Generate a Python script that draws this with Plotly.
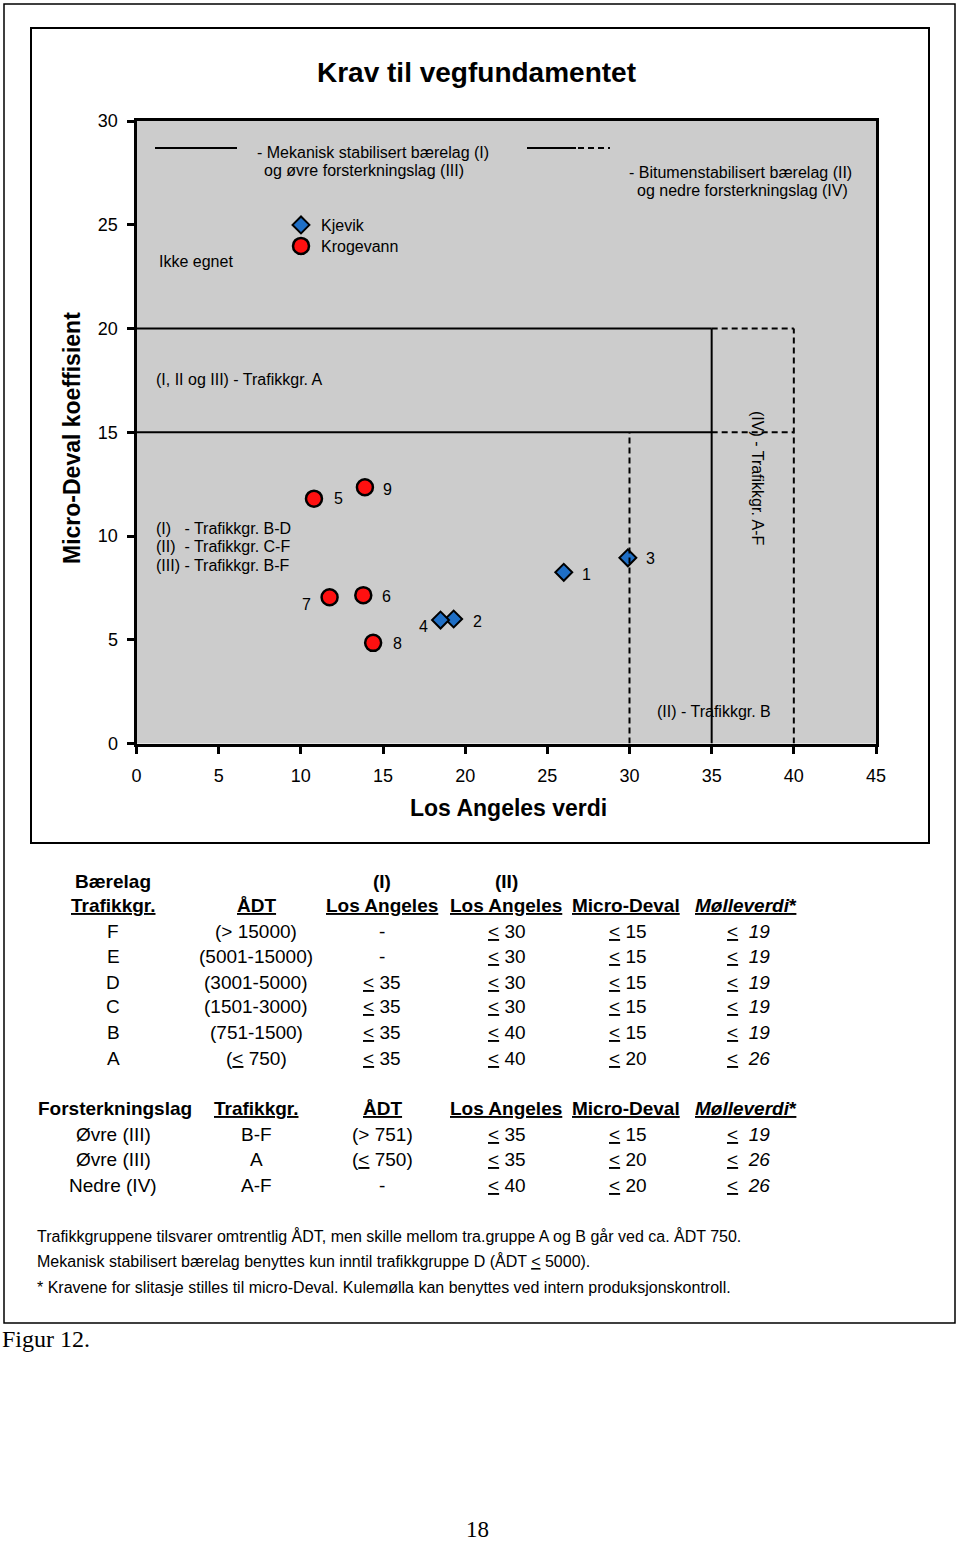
import plotly.graph_objects as go

W, H = 960, 1541

# ---------------- data ----------------
kjevik_la = [26.0, 19.3, 29.9, 18.5]
kjevik_md = [8.25, 6.0, 8.95, 5.95]
kjevik_labels = ["1", "2", "3", "4"]

krog_la = [10.8, 13.8, 11.75, 14.4, 13.9]
krog_md = [11.8, 7.15, 7.05, 4.85, 12.35]
krog_labels = ["5", "6", "7", "8", "9"]

x_ticks = [0, 5, 10, 15, 20, 25, 30, 35, 40, 45]
y_ticks = [0, 5, 10, 15, 20, 25, 30]

# requirement limits (LA, Micro-Deval)
solid_limits = [((0, 15), (35, 15)), ((0, 20), (35, 20)), ((35, 0), (35, 20))]
dashed_limits = [((35, 15), (40, 15)), ((35, 20), (40, 20)), ((40, 0), (40, 20)), ((30, 0), (30, 15))]

# table 1
t1_groups = ["F", "E", "D", "C", "B", "A"]
t1_adt = ["(> 15000)", "(5001-15000)", "(3001-5000)", "(1501-3000)", "(751-1500)", "(<u>&lt;</u> 750)"]
t1_la1 = ["-", "-", "35", "35", "35", "35"]
t1_la2 = ["30", "30", "30", "30", "40", "40"]
t1_md = ["15", "15", "15", "15", "15", "20"]
t1_ml = ["19", "19", "19", "19", "19", "26"]

# table 2
t2_layer = ["Øvre (III)", "Øvre (III)", "Nedre (IV)"]
t2_groups = ["B-F", "A", "A-F"]
t2_adt = ["(> 751)", "(<u>&lt;</u> 750)", "-"]
t2_la = ["35", "35", "40"]
t2_md = ["15", "20", "20"]
t2_ml = ["19", "26", "26"]

notes = [
    "Trafikkgruppene tilsvarer omtrentlig ÅDT, men skille mellom tra.gruppe A og B går ved ca. ÅDT 750.",
    "Mekanisk stabilisert bærelag benyttes kun inntil trafikkgruppe D (ÅDT <u>&lt;</u> 5000).",
    "* Kravene for slitasje stilles til micro-Deval. Kulemølla kan benyttes ved intern produksjonskontroll.",
]

# ---------------- style / layout helpers ----------------
FONT = "Liberation Sans, Arial, sans-serif"
label_offsets = {"1": (23, -2), "2": (24, -2), "3": (23, -1), "4": (-17, -6),
                 "5": (25, 0), "6": (23, -1), "7": (-23, -7), "8": (24, -1), "9": (23, -2)}


def px(x):
    return x / W


def py(y):
    return 1 - y / H


X0, X1, Y0, Y1 = 136.5, 876, 121, 743.5

fig = go.Figure()

fig.add_trace(go.Scatter(
    x=kjevik_la, y=kjevik_md, mode="markers", name="Kjevik", legend="legend",
    marker=dict(symbol="diamond", size=13, color="#1f6fc6", line=dict(color="black", width=2)),
))
fig.add_trace(go.Scatter(
    x=krog_la, y=krog_md, mode="markers", name="Krogevann", legend="legend2",
    marker=dict(symbol="circle", size=16, color="#ff1010", line=dict(color="black", width=2.5)),
))

ann = []


def text(x, y, s, size=16, bold=False, italic=False, anchor="center", angle=0, family=FONT, color="black"):
    if bold:
        s = "<b>" + s + "</b>"
    if italic:
        s = "<i>" + s + "</i>"
    ann.append(dict(x=px(x), y=py(y), xref="paper", yref="paper", text=s, showarrow=False,
                    xanchor=anchor, yanchor="middle", textangle=angle,
                    font=dict(family=family, size=size, color=color)))


# point labels
for xs, ys, labs in [(kjevik_la, kjevik_md, kjevik_labels), (krog_la, krog_md, krog_labels)]:
    for xv, yv, lab in zip(xs, ys, labs):
        dx, dy = label_offsets[lab]
        ann.append(dict(x=xv, y=yv, xref="x", yref="y", text=lab, showarrow=False,
                        xshift=dx, yshift=dy, font=dict(family=FONT, size=16, color="black")))

# titles
text(476, 72, "Krav til vegfundamentet", size=28, bold=True)
text(508, 808, "Los Angeles verdi", size=23, bold=True)
text(72, 438, "Micro-Deval koeffisient", size=23, bold=True, angle=-90)

# in-chart texts
text(255, 152, "- Mekanisk stabilisert bærelag (I)", anchor="left")
text(262, 170, "og øvre forsterkningslag (III)", anchor="left")
text(627, 172, "- Bitumenstabilisert bærelag (II)", anchor="left")
text(635, 190, "og nedre forsterkningslag (IV)", anchor="left")
text(157, 261, "Ikke egnet", anchor="left")
text(154, 379, "(I, II og III) - Trafikkgr. A", anchor="left")
text(154, 528, "(I)   - Trafikkgr. B-D", anchor="left")
text(154, 546, "(II)  - Trafikkgr. C-F", anchor="left")
text(154, 566, "(III) - Trafikkgr. B-F", anchor="left")
text(758, 478, "(IV) - Trafikkgr. A-F", angle=90)
text(714, 712, "(II) - Trafikkgr. B")

# table 1
TS = 19
c1 = [113, 256, 382, 506, 626, 746]
text(113, 881, "Bærelag", size=TS, bold=True)
text(382, 881, "(I)", size=TS, bold=True)
text(506, 881, "(II)", size=TS, bold=True)
hdr = ["Trafikkgr.", "ÅDT", "Los Angeles", "Los Angeles", "Micro-Deval"]
for cx, h in zip(c1, hdr):
    text(cx, 906, "<u>" + h + "</u>", size=TS, bold=True)
text(c1[5], 906, "<u><i>Mølleverdi</i>*</u>", size=TS, bold=True)


def le(v):
    if v == "-":
        return v
    return "<u>&lt;</u> " + v


rows1 = [931, 956, 982, 1007, 1032, 1058]
for i, ry in enumerate(rows1):
    text(c1[0], ry, t1_groups[i], size=TS)
    text(c1[1], ry, t1_adt[i], size=TS)
    text(c1[2], ry, le(t1_la1[i]), size=TS)
    text(c1[3] + 1, ry, le(t1_la2[i]), size=TS)
    text(c1[4] + 2, ry, le(t1_md[i]), size=TS)
    text(c1[5] + 2, ry, "<u>&lt;</u>  <i>" + t1_ml[i] + "</i>", size=TS)

# table 2
c2 = [113, 256, 382, 506, 626, 746]
text(36, 1108, "Forsterkningslag", size=TS, bold=True, anchor="left")
for cx, h in zip(c2[1:5], ["Trafikkgr.", "ÅDT", "Los Angeles", "Micro-Deval"]):
    text(cx, 1108, "<u>" + h + "</u>", size=TS, bold=True)
text(c2[5], 1108, "<u><i>Mølleverdi</i>*</u>", size=TS, bold=True)
rows2 = [1134, 1159, 1185]
for i, ry in enumerate(rows2):
    text(c2[0], ry, t2_layer[i], size=TS)
    text(c2[1], ry, t2_groups[i], size=TS)
    text(c2[2], ry, t2_adt[i], size=TS)
    text(c2[3] + 1, ry, le(t2_la[i]), size=TS)
    text(c2[4] + 2, ry, le(t2_md[i]), size=TS)
    text(c2[5] + 2, ry, "<u>&lt;</u>  <i>" + t2_ml[i] + "</i>", size=TS)

for ny, n in zip([1236, 1261, 1287], notes):
    text(35, ny, n, size=16, anchor="left")

text(0, 1339, "Figur 12.", size=24, anchor="left", family="Liberation Serif, Times New Roman, serif")
text(477, 1529, "18", size=23, family="Liberation Serif, Times New Roman, serif")

# shapes
shapes = []
for (a, b) in solid_limits:
    shapes.append(dict(type="line", xref="x", yref="y", x0=a[0], y0=a[1], x1=b[0], y1=b[1],
                       line=dict(color="black", width=2)))
for (a, b) in dashed_limits:
    shapes.append(dict(type="line", xref="x", yref="y", x0=a[0], y0=a[1], x1=b[0], y1=b[1],
                       line=dict(color="black", width=2, dash="6px,4px")))


def pline(x0, y0, x1, y1, w=2, dash="solid"):
    shapes.append(dict(type="line", xref="paper", yref="paper", x0=px(x0), y0=py(y0), x1=px(x1), y1=py(y1),
                       line=dict(color="black", width=w, dash=dash)))


def prect(x0, y0, x1, y1, w=2):
    shapes.append(dict(type="rect", xref="paper", yref="paper", x0=px(x0), y0=py(y0), x1=px(x1), y1=py(y1),
                       line=dict(color="black", width=w), fillcolor="rgba(0,0,0,0)"))


pline(155, 148, 237, 148)
pline(527, 148, 576, 148)
pline(578, 148, 610, 148, dash="6px,4px")
prect(31, 28, 929, 843, 2)
prect(4, 4, 955, 1323, 1.5)

axis_common = dict(showline=True, linecolor="black", linewidth=3, mirror=True, showgrid=False,
                   zeroline=False, ticks="outside", ticklen=7, tickwidth=2.5, tickcolor="black",
                   automargin=False,
                   tickfont=dict(family=FONT, size=18, color="black"), fixedrange=True)

legend_common = dict(xanchor="left", yanchor="top", bgcolor="rgba(0,0,0,0)",
                     font=dict(family=FONT, size=16, color="black"), itemsizing="trace")

fig.update_layout(
    width=W, height=H, autosize=False,
    margin=dict(l=0, r=0, t=0, b=0, pad=0, autoexpand=False),
    paper_bgcolor="white", plot_bgcolor="#cccccc",
    xaxis=dict(range=[0, 45], tickvals=x_ticks, domain=[px(X0), px(X1)], ticklabelstandoff=7,
               **axis_common),
    yaxis=dict(range=[0, 30], tickvals=y_ticks, domain=[py(Y1), py(Y0)], ticklabelstandoff=5,
               **axis_common),
    showlegend=True,
    legend=dict(x=px(281), y=py(208), **legend_common),
    legend2=dict(x=px(281), y=py(229), **legend_common),
    annotations=ann, shapes=shapes,
)

fig.write_html("out.html", config={"displayModeBar": False},
               post_script="document.body.style.margin='0';document.body.style.overflow='hidden';")
